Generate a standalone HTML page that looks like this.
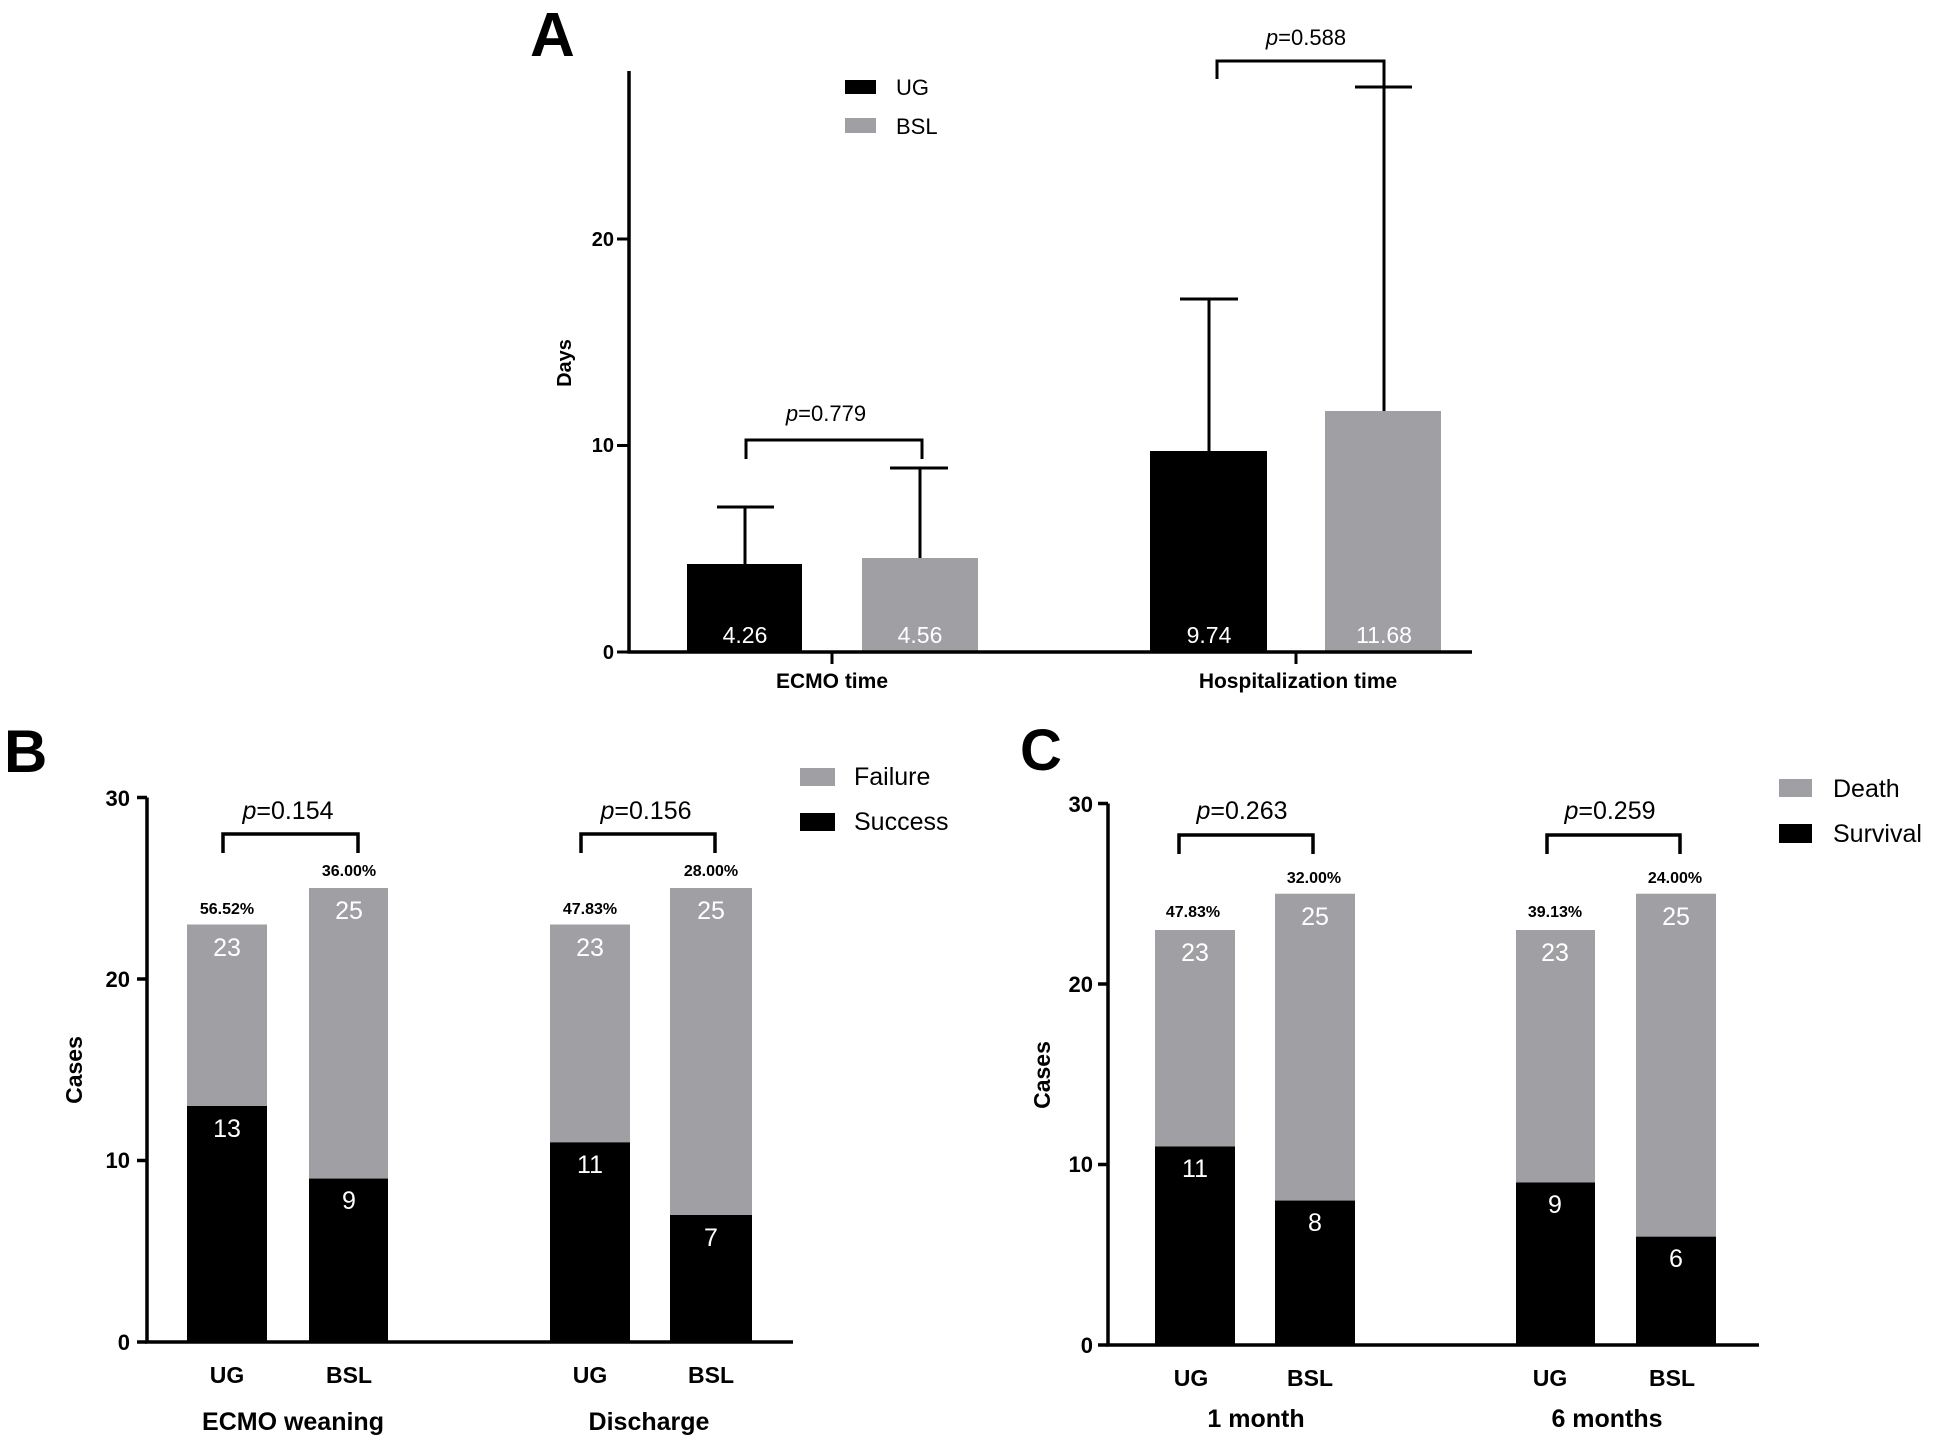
<!DOCTYPE html>
<html><head><meta charset="utf-8"><style>
html,body{margin:0;padding:0;background:#fff}
svg{display:block}
text{font-family:"Liberation Sans",Arial,sans-serif}
</style></head><body>
<svg width="1943" height="1445" viewBox="0 0 1943 1445" xmlns="http://www.w3.org/2000/svg">
<rect width="1943" height="1445" fill="#fff"/>
<!-- Panel A -->
<text x="530" y="56" font-size="62" font-weight="bold">A</text>
<g fill="#000">
<rect x="687" y="564" width="115" height="88"/>
<rect x="1150" y="451" width="117" height="201"/>
</g>
<g fill="#a0a0a4">
<rect x="862" y="558" width="116" height="94"/>
<rect x="1325" y="411" width="116" height="241"/>
</g>
<g stroke="#000" stroke-width="3" fill="none">
<path d="M745 564V507M717 507H774"/>
<path d="M920 558V468M890 468H948"/>
<path d="M1209 451V299M1180 299H1238"/>
<path d="M1384 411V87M1355 87H1412"/>
<path d="M746 459V440H922V459"/>
<path d="M1217 79V61H1384V87"/>
<path d="M629 71V652H1472" stroke-width="3.5"/>
<path d="M617 652H629M617 445.5H629M617 239H629M832 652V664M1296 652V664"/>
</g>
<g font-size="20" font-weight="bold" text-anchor="end">
<text x="614" y="659">0</text><text x="614" y="452">10</text><text x="614" y="246">20</text>
</g>
<text transform="translate(571,363) rotate(-90)" font-size="20" font-weight="bold" text-anchor="middle">Days</text>
<g font-size="21" font-weight="bold" text-anchor="middle">
<text x="832" y="688">ECMO time</text><text x="1298" y="688">Hospitalization time</text>
</g>
<g font-size="23" fill="#fff" text-anchor="middle">
<text x="745" y="643">4.26</text><text x="920" y="643">4.56</text><text x="1209" y="643">9.74</text><text x="1384" y="643">11.68</text>
</g>
<g font-size="22" text-anchor="middle">
<text x="826" y="421"><tspan font-style="italic">p</tspan>=0.779</text>
<text x="1306" y="45"><tspan font-style="italic">p</tspan>=0.588</text>
</g>
<rect x="845" y="80" width="31" height="14" fill="#000"/>
<rect x="845" y="118" width="31" height="15" fill="#a0a0a4"/>
<text x="896" y="95" font-size="22">UG</text>
<text x="896" y="134" font-size="22">BSL</text>

<!-- Panel B -->
<text x="4" y="772" font-size="60" font-weight="bold">B</text>
<g fill="#a0a0a4">
<rect x="187" y="924.5" width="80" height="417"/>
<rect x="309" y="888" width="79" height="454"/>
<rect x="550" y="924.5" width="80" height="417"/>
<rect x="670" y="888" width="82" height="454"/>
</g>
<g fill="#000">
<rect x="187" y="1106" width="80" height="236"/>
<rect x="309" y="1178.6" width="79" height="163.4"/>
<rect x="550" y="1142.4" width="80" height="199.6"/>
<rect x="670" y="1215" width="82" height="127"/>
</g>
<g stroke="#000" stroke-width="3.5" fill="none">
<path d="M147 797.5V1342H793"/>
<path d="M137 1342H147M137 1160.5H147M137 979H147M137 797.5H147"/>
<path d="M223 853V834H358V853"/>
<path d="M581 853V834H715V853"/>
</g>
<g font-size="22" font-weight="bold" text-anchor="end">
<text x="130" y="1350">0</text><text x="130" y="1168">10</text><text x="130" y="987">20</text><text x="130" y="806">30</text>
</g>
<text transform="translate(82,1070) rotate(-90)" font-size="23" font-weight="bold" text-anchor="middle">Cases</text>
<g font-size="23" font-weight="bold" text-anchor="middle">
<text x="227" y="1383">UG</text><text x="349" y="1383">BSL</text><text x="590" y="1383">UG</text><text x="711" y="1383">BSL</text>
</g>
<g font-size="25" font-weight="bold" text-anchor="middle">
<text x="293" y="1430">ECMO weaning</text><text x="649" y="1430">Discharge</text>
</g>
<g font-size="16" font-weight="bold" text-anchor="middle">
<text x="227" y="914">56.52%</text><text x="349" y="876">36.00%</text><text x="590" y="914">47.83%</text><text x="711" y="876">28.00%</text>
</g>
<g font-size="25" fill="#fff" text-anchor="middle">
<text x="227" y="956">23</text><text x="349" y="919">25</text><text x="590" y="956">23</text><text x="711" y="919">25</text>
<text x="227" y="1137">13</text><text x="349" y="1209">9</text><text x="590" y="1173">11</text><text x="711" y="1246">7</text>
</g>
<g font-size="25" text-anchor="middle">
<text x="288" y="819"><tspan font-style="italic">p</tspan>=0.154</text>
<text x="646" y="819"><tspan font-style="italic">p</tspan>=0.156</text>
</g>
<rect x="800" y="768" width="35" height="18" fill="#a0a0a4"/>
<rect x="800" y="813" width="35" height="18" fill="#000"/>
<text x="854" y="785" font-size="25">Failure</text>
<text x="854" y="830" font-size="25">Success</text>

<!-- Panel C -->
<text x="1020" y="770" font-size="58" font-weight="bold">C</text>
<g fill="#a0a0a4">
<rect x="1155" y="930" width="80" height="415"/>
<rect x="1275" y="893.7" width="80" height="451.3"/>
<rect x="1516" y="930" width="79" height="415"/>
<rect x="1636" y="893.7" width="80" height="451.3"/>
</g>
<g fill="#000">
<rect x="1155" y="1146.5" width="80" height="198.5"/>
<rect x="1275" y="1200.6" width="80" height="144.4"/>
<rect x="1516" y="1182.5" width="79" height="162.5"/>
<rect x="1636" y="1236.7" width="80" height="108.3"/>
</g>
<g stroke="#000" stroke-width="3.5" fill="none">
<path d="M1108 803.5V1345H1759"/>
<path d="M1098 1345H1108M1098 1164.5H1108M1098 984H1108M1098 803.5H1108"/>
<path d="M1179 854V835H1313V854"/>
<path d="M1547 854V835H1680V854"/>
</g>
<g font-size="22" font-weight="bold" text-anchor="end">
<text x="1093" y="1353">0</text><text x="1093" y="1172">10</text><text x="1093" y="992">20</text><text x="1093" y="812">30</text>
</g>
<text transform="translate(1050,1075) rotate(-90)" font-size="23" font-weight="bold" text-anchor="middle">Cases</text>
<g font-size="23" font-weight="bold" text-anchor="middle">
<text x="1191" y="1386">UG</text><text x="1310" y="1386">BSL</text><text x="1550" y="1386">UG</text><text x="1672" y="1386">BSL</text>
</g>
<g font-size="25" font-weight="bold" text-anchor="middle">
<text x="1256" y="1427">1 month</text><text x="1607" y="1427">6 months</text>
</g>
<g font-size="16" font-weight="bold" text-anchor="middle">
<text x="1193" y="917">47.83%</text><text x="1314" y="883">32.00%</text><text x="1555" y="917">39.13%</text><text x="1675" y="883">24.00%</text>
</g>
<g font-size="25" fill="#fff" text-anchor="middle">
<text x="1195" y="961">23</text><text x="1315" y="925">25</text><text x="1555" y="961">23</text><text x="1676" y="925">25</text>
<text x="1195" y="1177">11</text><text x="1315" y="1231">8</text><text x="1555" y="1213">9</text><text x="1676" y="1267">6</text>
</g>
<g font-size="25" text-anchor="middle">
<text x="1242" y="819"><tspan font-style="italic">p</tspan>=0.263</text>
<text x="1610" y="819"><tspan font-style="italic">p</tspan>=0.259</text>
</g>
<rect x="1779" y="779" width="33" height="18" fill="#a0a0a4"/>
<rect x="1779" y="824" width="33" height="19" fill="#000"/>
<text x="1833" y="797" font-size="25">Death</text>
<text x="1833" y="842" font-size="25">Survival</text>
</svg>
</body></html>
